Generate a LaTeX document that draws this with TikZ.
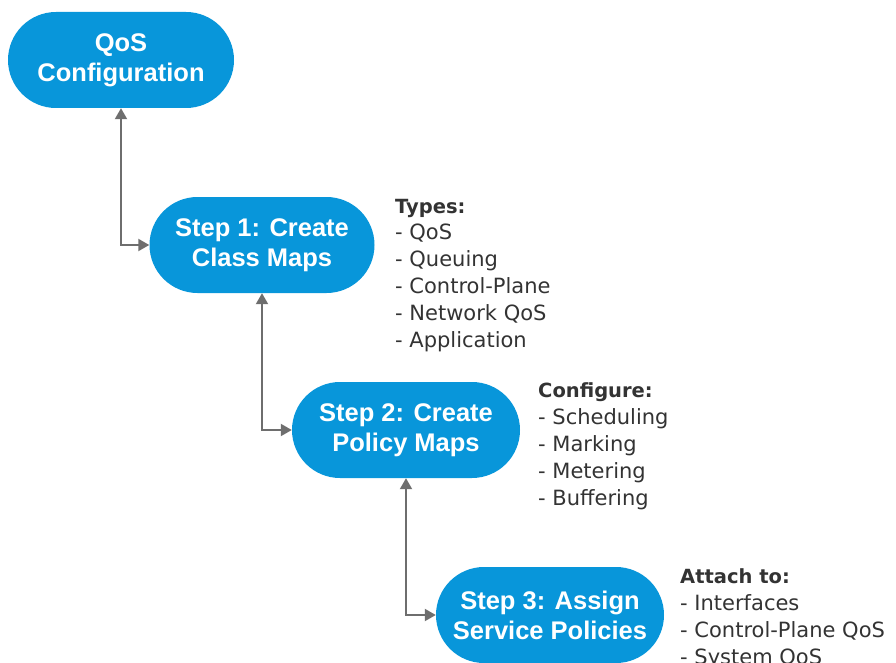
\documentclass[tikz,border=0pt]{standalone}
\usepackage{fontspec}
\setmainfont{Liberation Sans}
\newfontfamily\listfont{DejaVu Sans}
\usetikzlibrary{arrows.meta}
\newcommand{\notehead}[1]{{\bfseries\fontsize{19.5}{26.8}\selectfont #1}}

\begin{document}
\begin{tikzpicture}[x=1pt,y=-1pt]
    \definecolor{stepblue}{RGB}{8,150,218}
    \definecolor{linkgray}{RGB}{110,110,110}
    \tikzset{
        stepbox/.style={fill=stepblue,text=white,rounded corners=48pt,
            minimum width=228pt,minimum height=96pt,align=center,inner sep=0pt,
            font=\fontsize{25.5}{30}\selectfont\bfseries},
        notes/.style={anchor=base west,align=left,inner sep=0pt,text=black!80,
            font=\listfont\fontsize{21}{26.8}\selectfont},
        link/.style={linkgray,line width=2pt,
            {Triangle[length=11pt,width=12pt]}-{Triangle[length=11pt,width=12pt]}}
    }
    \useasboundingbox (0,0) rectangle (896,663);

    % steps
    \node[stepbox,minimum width=226pt] (qos) at (121,60) {QoS\\Configuration};
    \node[stepbox,minimum width=225pt] (step1) at (262,245) {Step 1: Create\\Class Maps};
    \node[stepbox] (step2) at (406,430) {Step 2: Create\\Policy Maps};
    \node[stepbox] (step3) at (550,615) {Step 3: Assign\\Service Policies};

    % notes (placed at the baseline of their last line)
    \node[notes] (types) at (395,347)
        {\notehead{Types:}\\- QoS\\- Queuing\\- Control-Plane\\- Network QoS\\- Application};
    \node[notes] (configure) at (538,505)
        {\notehead{Configure:}\\- Scheduling\\- Marking\\- Metering\\- Buffering};
    \node[notes] (attach) at (680,664)
        {\notehead{Attach to:}\\- Interfaces\\- Control-Plane QoS\\- System QoS};

    % links
    \draw[link] (qos.south) |- (step1.west);
    \draw[link] (step1.south) |- (step2.west);
    \draw[link] (step2.south) |- (step3.west);
\end{tikzpicture}
\end{document}
